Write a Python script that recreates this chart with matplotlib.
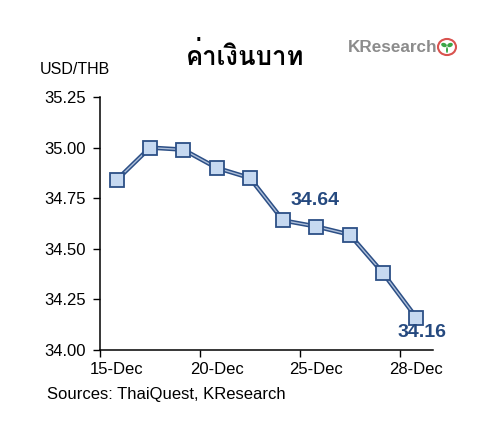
#!/usr/bin/env python3

import matplotlib
matplotlib.use('Agg')
import matplotlib.pyplot as plt
from matplotlib import font_manager
from matplotlib.ft2font import FT2Font
from matplotlib.patches import Circle, Ellipse

# data
dates = ['15-Dec', '18-Dec', '19-Dec', '20-Dec', '21-Dec', '22-Dec',
         '25-Dec', '26-Dec', '27-Dec', '28-Dec']
usd_thb = [34.84, 35.00, 34.99, 34.90, 34.85, 34.64, 34.61, 34.57, 34.38, 34.16]
labelled = {5: '34.64', 9: '34.16'}
yticks = [34.00, 34.25, 34.50, 34.75, 35.00, 35.25]


def thai_font():
    # pick any installed font that actually has Thai glyphs
    for f in font_manager.fontManager.ttflist:
        try:
            if 0x0E04 in FT2Font(f.fname).get_charmap():
                return f.name
        except Exception:
            pass
    return 'DejaVu Sans'


plt.rcParams['font.family'] = ['Liberation Sans', 'DejaVu Sans']

dark = '#2c4f86'
light = '#c6d9f1'

fig = plt.figure(figsize=(4.82, 4.30), dpi=100)
ax = fig.add_axes([100 / 482, 80 / 430, 333 / 482, 253 / 430])

x = list(range(1, len(usd_thb) + 1))
ax.plot(x, usd_thb, color=dark, lw=3.2, zorder=2, solid_joinstyle='round')
ax.plot(x, usd_thb, color='#aebfd9', lw=1.0, zorder=3)
ax.plot(x, usd_thb, ls='none', marker='s', ms=9.5, mfc=light, mec=dark, mew=1.3, zorder=4)

for i, txt in labelled.items():
    if i == 5:
        ax.text(x[i] + 0.22, usd_thb[i] + 0.055, txt, fontsize=14, fontweight='bold',
                color='#25497f', ha='left', va='bottom')
    else:
        ax.text(x[i] + 0.18, usd_thb[i] - 0.03, txt, fontsize=14, fontweight='bold',
                color='#25497f', ha='center', va='top', zorder=5)

ax.set_xlim(0.5, len(usd_thb) + 0.5)
ax.set_ylim(34.0, 35.25)
ax.set_yticks(yticks)
ax.set_yticklabels(['%.2f' % v for v in yticks])

# category axis: ticks between categories every 3, labels every 3
ax.set_xticks([0.5, 3.5, 6.5, 9.5])
ax.set_xticklabels([])
ax.set_xticks([1, 4, 7, 10], minor=True)
ax.set_xticklabels([dates[0], dates[3], dates[6], dates[9]], minor=True)
ax.tick_params(axis='x', which='minor', length=0, pad=9, labelsize=12)
ax.tick_params(axis='x', which='major', length=5, width=1, direction='out')
ax.tick_params(axis='y', length=5, width=1, direction='out', labelsize=12, pad=5)

for s in ['top', 'right']:
    ax.spines[s].set_visible(False)
for s in ['left', 'bottom']:
    ax.spines[s].set_linewidth(1.1)

fig.text(40 / 482, 1 - 69 / 430, 'USD/THB', fontsize=11.5, ha='left', va='center')
fig.text(245 / 482, 1 - 56 / 430, 'ค่าเงินบาท', fontsize=18.5, fontweight='bold',
         ha='center', va='center', family=[thai_font(), 'DejaVu Sans'])
fig.text(47 / 482, 1 - 395 / 430, 'Sources: ThaiQuest, KResearch', fontsize=12,
         ha='left', va='center')

# logo
fig.text(348 / 482, 1 - 48 / 430, 'KResearch', fontsize=12.3, fontweight='bold',
         color='#8c8c8c', ha='left', va='center')
fig.patches.append(Circle((447 / 482, 1 - 47 / 430), 9 / 482, transform=fig.transFigure,
                          facecolor='white', edgecolor='#d9534f', lw=1.5))
fig.patches.append(Ellipse((444 / 482, 1 - 45 / 430), 6 / 482, 4 / 430, angle=-30,
                           transform=fig.transFigure, facecolor='#3aa547', edgecolor='none'))
fig.patches.append(Ellipse((450 / 482, 1 - 45 / 430), 6 / 482, 4 / 430, angle=30,
                           transform=fig.transFigure, facecolor='#3aa547', edgecolor='none'))
fig.patches.append(Ellipse((447 / 482, 1 - 50 / 430), 2 / 482, 6 / 430,
                           transform=fig.transFigure, facecolor='#3aa547', edgecolor='none'))

fig.savefig('out.png', dpi=100)
